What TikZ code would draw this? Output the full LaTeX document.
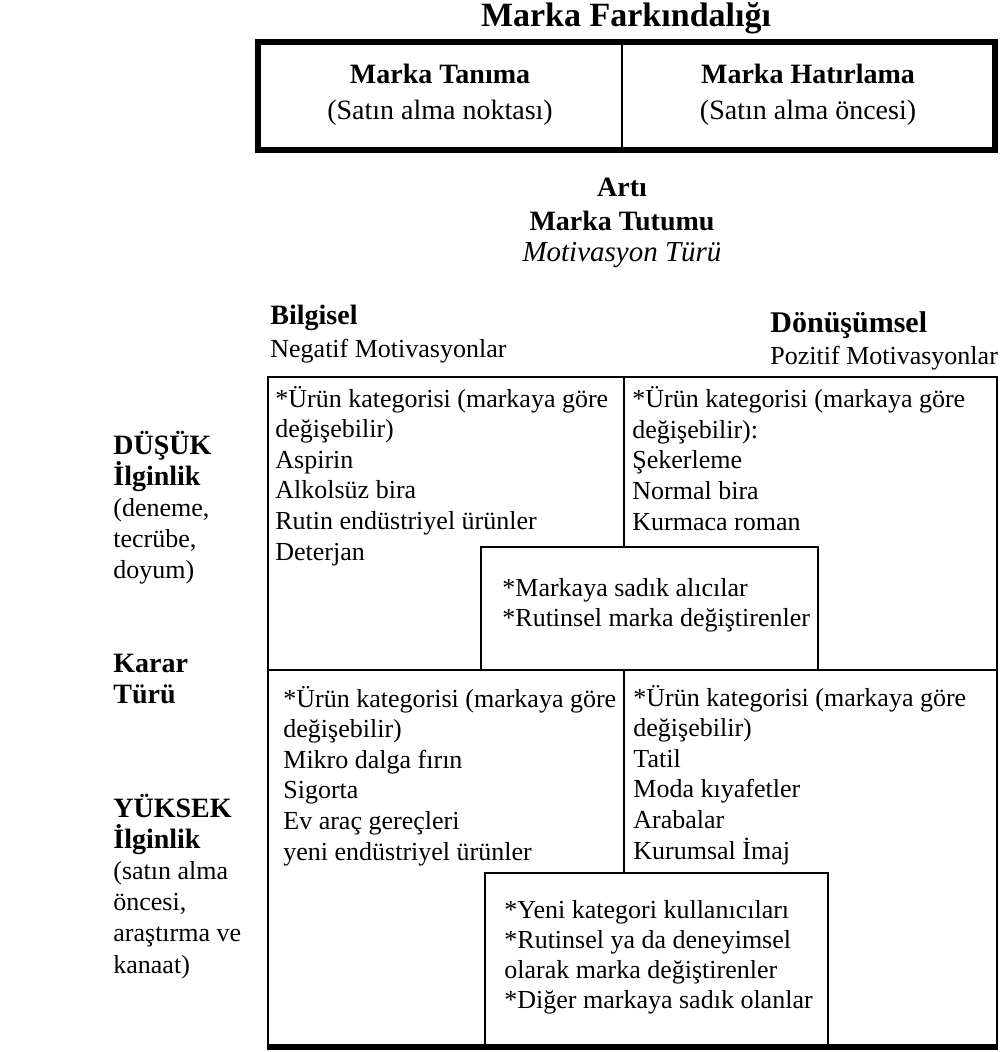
\documentclass[tikz,border=0pt]{standalone}
\usepackage{fontspec}
\setmainfont{Liberation Serif}
\usetikzlibrary{positioning}

\begin{document}
\begin{tikzpicture}[x=0.5pt, y=-0.5pt, line join=miter]
	% base anchor of a multi-line node = baseline of its last line
	\tikzstyle{cell} = [anchor=base west, align=left, inner sep=0pt, font=\fontsize{13}{15.3}\selectfont];
	\tikzstyle{head} = [anchor=base, align=center, inner sep=0pt, font=\fontsize{14}{18}\selectfont];
	\tikzstyle{side} = [anchor=base west, align=left, inner sep=0pt, font=\fontsize{13}{15.4}\selectfont];
	\tikzstyle{frame} = [draw, line width=1.4pt];
	\tikzstyle{heavy} = [draw, line width=2.8pt];

	\useasboundingbox (0,0) rectangle (1002,1052);

	% Marka Farkindaligi
	\node[head, font=\bfseries\fontsize{17}{20}\selectfont] (title) at (626,27) {Marka Farkındalığı};
	\draw[heavy] (258,42) rectangle (995,150);
	\draw[line width=1.2pt] (622,42) -- (622,150);
	\node[head] (tanima) at (440,120) {\textbf{Marka Tanıma}\\(Satın alma noktası)};
	\node[head] (hatirlama) at (808,120) {\textbf{Marka Hatırlama}\\(Satın alma öncesi)};

	% Marka Tutumu
	\node[head, font=\bfseries\fontsize{14}{17}\selectfont] (arti) at (622,197) {Artı};
	\node[head, font=\bfseries\fontsize{14}{17}\selectfont] (tutum) at (622,231) {Marka Tutumu};
	\node[head, font=\itshape\fontsize{14.5}{17}\selectfont] (motiv) at (622,262) {Motivasyon Türü};
	\node[side, font=\bfseries\fontsize{14}{17}\selectfont] (bilgisel) at (270,325) {Bilgisel};
	\node[side] (negatif) at (270,358) {Negatif Motivasyonlar};
	\node[side, font=\bfseries\fontsize{15}{17}\selectfont] (donusumsel) at (770,333) {Dönüşümsel};
	\node[side] (pozitif) at (770,365) {Pozitif Motivasyonlar};

	% grid
	\draw[frame] (268,377) rectangle (997,1047);
	\draw[frame] (268,670) -- (997,670);
	\draw[frame] (624,377) -- (624,547);
	\draw[frame] (624,670) -- (624,873);
	\draw[frame, fill=white] (481,547) rectangle (818,670);
	\draw[frame, fill=white] (485,873) rectangle (828,1047);
	\draw[heavy] (267,1047) -- (998,1047);

	\node[cell] (dusukbil) at (275,560) {*Ürün kategorisi (markaya göre\\değişebilir)\\Aspirin\\Alkolsüz bira\\Rutin endüstriyel ürünler\\Deterjan};
	\node[cell] (dusukdon) at (632,530) {*Ürün kategorisi (markaya göre\\değişebilir):\\Şekerleme\\Normal bira\\Kurmaca roman};
	\node[cell, font=\fontsize{13}{15}\selectfont] (sadik) at (502,626) {*Markaya sadık alıcılar\\*Rutinsel marka değiştirenler};
	\node[cell] (yuksekbil) at (283,860) {*Ürün kategorisi (markaya göre\\değişebilir)\\Mikro dalga fırın\\Sigorta\\Ev araç gereçleri\\yeni endüstriyel ürünler};
	\node[cell] (yuksekdon) at (633,859) {*Ürün kategorisi (markaya göre\\değişebilir)\\Tatil\\Moda kıyafetler\\Arabalar\\Kurumsal İmaj};
	\node[cell, font=\fontsize{13}{15}\selectfont] (yeni) at (504,1008) {*Yeni kategori kullanıcıları\\*Rutinsel ya da deneyimsel\\olarak marka değiştirenler\\*Diğer markaya sadık olanlar};

	% karar turu
	\node[side] (dusuk) at (113,578) {\textbf{\fontsize{14}{15.4}\selectfont DÜŞÜK}\\\textbf{\fontsize{14}{15.4}\selectfont İlginlik}\\(deneme,\\tecrübe,\\doyum)};
	\node[side] (karar) at (113,703) {\textbf{\fontsize{14}{15.4}\selectfont Karar}\\\textbf{\fontsize{14}{15.4}\selectfont Türü}};
	\node[side, font=\fontsize{13}{15.6}\selectfont] (yuksek) at (113,973) {\textbf{\fontsize{14}{15.6}\selectfont YÜKSEK}\\\textbf{\fontsize{14}{15.6}\selectfont İlginlik}\\(satın alma\\öncesi,\\araştırma ve\\kanaat)};
\end{tikzpicture}
\end{document}
